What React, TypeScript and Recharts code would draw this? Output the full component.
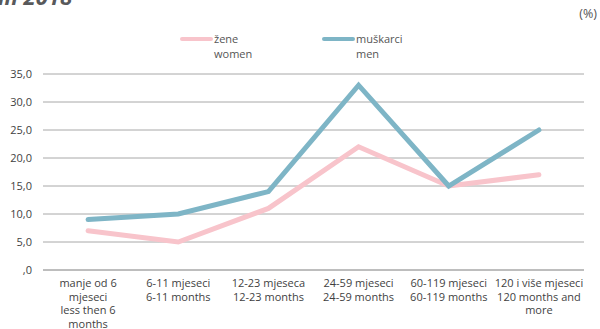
import { LineChart, Line, XAxis, YAxis, CartesianGrid, Legend } from "recharts";

// ─── Data ─────────────────────────────────────────────────────────────────────

const categories = [
  "manje od 6\nmjeseci\nless then 6\nmonths",
  "6-11 mjeseci\n6-11 months",
  "12-23 mjeseca\n12-23 months",
  "24-59 mjeseci\n24-59 months",
  "60-119 mjeseci\n60-119 months",
  "120 i više mjeseci\n120 months and\nmore",
];
const women = [7, 5, 11, 22, 15, 17];
const men = [9, 10, 14, 33, 15, 25];
const yTicks = [0, 5, 10, 15, 20, 25, 30, 35];

const series = [
  { key: "women", label: ["žene", "women"], color: "#f8c4cb" },
  { key: "men", label: ["muškarci", "men"], color: "#7eb5c6" },
];

// category i sits in the middle of band [i, i+1]
const data = categories.map((c, i) => ({
  pos: i + 0.5,
  name: c,
  women: women[i],
  men: men[i],
}));
const boundaryTicks = categories.map((_, i) => i).concat(categories.length);
const centerTicks = data.map((d) => d.pos);

const FONT = "'Open Sans', sans-serif";
const TEXT = "#3f3f3f";
const GRID = "#a8a8a8";

// ─── Ticks / legend ───────────────────────────────────────────────────────────

function CategoryTick({ x, y, payload }: any) {
  const lines = categories[Math.floor(payload.value)].split("\n");
  return (
    <text x={x} y={y} textAnchor="middle" fontFamily={FONT} fontSize={11} fill={TEXT}>
      {lines.map((l, i) => (
        <tspan key={i} x={x} dy={i === 0 ? 16 : 13.5}>
          {l}
        </tspan>
      ))}
    </text>
  );
}

function SexLegend() {
  const spots = [180, 322];
  return (
    <div style={{ position: "relative", width: 600, height: 30 }}>
      {series.map((s, i) => (
        <div key={s.key} style={{ position: "absolute", left: spots[i], top: 0 }}>
          <div
            style={{
              position: "absolute",
              left: 0,
              top: 6,
              width: 33,
              height: 4,
              borderRadius: 2,
              background: s.color,
            }}
          />
          <div
            style={{
              position: "absolute",
              left: 34,
              top: 0,
              fontFamily: FONT,
              fontSize: 11,
              lineHeight: "15px",
              color: "#555",
              whiteSpace: "nowrap",
            }}
          >
            {s.label[0]}
            <br />
            {s.label[1]}
          </div>
        </div>
      ))}
    </div>
  );
}

// ─── App ──────────────────────────────────────────────────────────────────────

export default function App() {
  const fmt = (v: number) => (v === 0 ? ",0" : v.toFixed(1).replace(".", ","));

  return (
    <div style={{ position: "absolute", left: 0, top: 0, width: 600, height: 329, background: "#fff", overflow: "hidden" }}>
      <div
        style={{
          position: "absolute",
          left: -2,
          top: -19,
          fontFamily: FONT,
          fontSize: 22,
          fontWeight: 700,
          fontStyle: "italic",
          color: "#58595b",
          whiteSpace: "nowrap",
        }}
      >
        in 2018
      </div>
      <div
        style={{
          position: "absolute",
          right: 3,
          top: 5,
          fontFamily: FONT,
          fontSize: 12.5,
          color: "#555",
        }}
      >
        (%)
      </div>

      <LineChart width={600} height={329} data={data} margin={{ top: 74, right: 16, left: 0, bottom: 0 }}>
        <CartesianGrid horizontal vertical={false} stroke={GRID} strokeWidth={1} />

        <XAxis
          xAxisId="band"
          type="number"
          dataKey="pos"
          domain={[0, categories.length]}
          ticks={boundaryTicks}
          tick={false}
          tickSize={4}
          stroke={GRID}
          height={1}
        />
        <XAxis
          xAxisId="label"
          type="number"
          dataKey="pos"
          domain={[0, categories.length]}
          ticks={centerTicks}
          tick={<CategoryTick />}
          axisLine={false}
          tickLine={false}
          tickSize={0}
          tickMargin={0}
          height={58}
          interval={0}
        />

        <YAxis
          domain={[0, 35]}
          ticks={yTicks}
          tickFormatter={fmt}
          tick={{ fontSize: 11, fill: TEXT, fontFamily: FONT }}
          axisLine={false}
          tickLine={false}
          tickSize={0}
          tickMargin={11}
          width={43}
        />

        <Legend verticalAlign="middle" align="center" wrapperStyle={{ top: 31, left: 0, width: 600 }} content={<SexLegend />} />

        {series.map((s) => (
          <Line
            key={s.key}
            xAxisId="band"
            type="linear"
            dataKey={s.key}
            stroke={s.color}
            strokeWidth={5}
            strokeLinecap="round"
            dot={false}
            activeDot={false}
            isAnimationActive={false}
          />
        ))}
      </LineChart>
    </div>
  );
}
